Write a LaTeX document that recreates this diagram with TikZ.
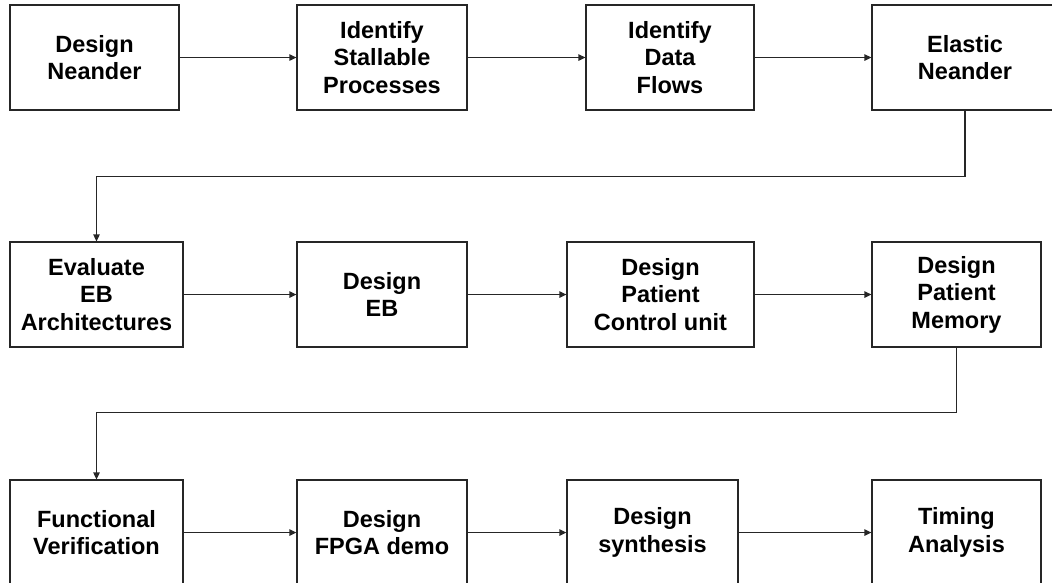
\documentclass[tikz,border=0pt]{standalone}
\usepackage{fontspec}
\setmainfont{Liberation Sans}
\usetikzlibrary{arrows.meta}
\begin{document}
\begin{tikzpicture}[x=1pt,y=-1pt,
  stagebox/.style={draw=black!85, line width=1.3pt, fill=white, inner sep=0pt,
    align=center, font=\fontsize{23.5}{27.5}\selectfont\bfseries,
    minimum height=105pt},
  flow/.style={draw=black!85, line width=1.3pt,
    -{Triangle[length=7pt,width=6.5pt]}}]
\useasboundingbox (0,0) rectangle (1052,582);

% first row
\node[stagebox, minimum width=169pt] (a1) at (94.5,57.5) {Design\\Neander};
\node[stagebox, minimum width=170pt] (a2) at (382,57.5) {Identify\\Stallable\\Processes};
\node[stagebox, minimum width=168pt] (a3) at (670,57.5) {Identify\\Data\\Flows};
\node[stagebox, minimum width=186pt] (a4) at (965,57.5) {Elastic\\Neander};

% second row
\node[stagebox, minimum width=173pt] (b1) at (96.5,294.5) {Evaluate\\EB\\Architectures};
\node[stagebox, minimum width=170pt] (b2) at (382,294.5) {Design\\EB};
\node[stagebox, minimum width=187pt] (b3) at (660.5,294.5) {Design\\Patient\\Control unit};
\node[stagebox, minimum width=169pt] (b4) at (956.5,294.5) {Design\\Patient\\Memory};

% third row
\node[stagebox, minimum width=173pt] (c1) at (96.5,532.5) {Functional\\Verification};
\node[stagebox, minimum width=170pt] (c2) at (382,532.5) {Design\\FPGA demo};
\node[stagebox, minimum width=171pt] (c3) at (652.5,532.5) {Design\\synthesis};
\node[stagebox, minimum width=169pt] (c4) at (956.5,532.5) {Timing\\Analysis};

% straight connectors within each row
\draw[flow] (a1.east) -- (a2.west);
\draw[flow] (a2.east) -- (a3.west);
\draw[flow] (a3.east) -- (a4.west);
\draw[flow] (b1.east) -- (b2.west);
\draw[flow] (b2.east) -- (b3.west);
\draw[flow] (b3.east) -- (b4.west);
\draw[flow] (c1.east) -- (c2.west);
\draw[flow] (c2.east) -- (c3.west);
\draw[flow] (c3.east) -- (c4.west);

% elbow connectors between rows
\draw[flow] (a4.south) -- ++(0,66) -| (b1.north);
\draw[flow] (b4.south) -- ++(0,65) -| (c1.north);
\end{tikzpicture}
\end{document}
